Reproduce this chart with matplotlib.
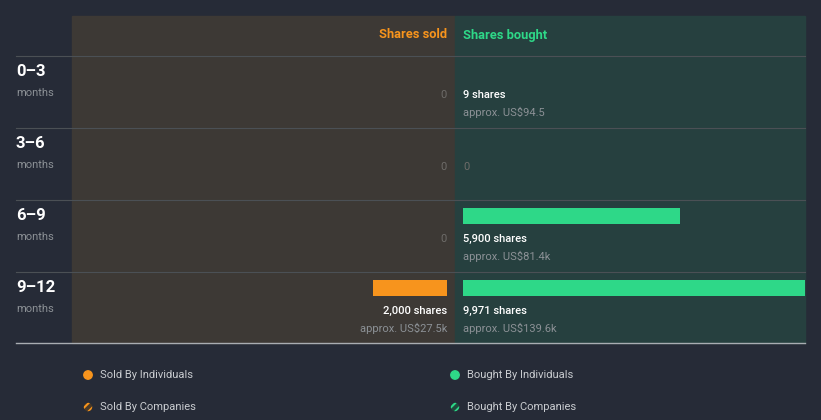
import matplotlib
matplotlib.use('Agg')
import matplotlib.pyplot as plt
from matplotlib.patches import Rectangle, Circle

plt.rcParams['font.family'] = ['Roboto', 'DejaVu Sans']
plt.rcParams['hatch.linewidth'] = 1.5

periods = ['0–3', '3–6', '6–9', '9–12']
sold_shares = [0, 0, 0, 2000]
sold_value = ['', '', '', 'US$27.5k']
bought_shares = [9, 0, 5900, 9971]
bought_value = ['US$94.5', '', 'US$81.4k', 'US$139.6k']
legend_labels = ['Sold By Individuals', 'Sold By Companies',
                 'Bought By Individuals', 'Bought By Companies']

BG = '#262b37'
SOLD_BG = '#3d3935'
BOUGHT_BG = '#26403f'
ORANGE = '#f7941d'
GREEN = '#2ed888'
GRID = '#4b5055'
GREY = '#8c9196'
DIM = '#6e6c69'

fig = plt.figure(figsize=(8.21, 4.20), dpi=100, facecolor=BG)
ax = fig.add_axes([0, 0, 1, 1])
ax.set_xlim(0, 821)
ax.set_ylim(420, 0)
ax.axis('off')

# panels
top, bottom = 16, 343
mid, right = 455, 805
ax.add_patch(Rectangle((72, top), mid - 72, bottom - top, color=SOLD_BG, zorder=0))
bought_panel = Rectangle((mid, top), right - mid, bottom - top, color=BOUGHT_BG, zorder=0)
ax.add_patch(bought_panel)

ax.text(447, 35, 'Shares sold', color=ORANGE, fontsize=9.3, fontweight='bold',
        ha='right', va='center')
ax.text(463, 35, 'Shares bought', color=GREEN, fontsize=9.3, fontweight='bold',
        ha='left', va='center')

# scale: pixels per share (largest bar runs past the panel edge and is clipped)
scale = 367 / max(bought_shares + sold_shares)
row_h = 72
first_row = 56

for i, p in enumerate(periods):
    y0 = first_row + i * row_h
    ax.plot([16, right], [y0, y0], color=GRID, lw=0.8, zorder=1)
    ax.text(16, y0 + 15.5, p, color='white', fontsize=12, fontweight='bold',
            ha='left', va='center')
    ax.text(16, y0 + 37, 'months', color=GREY, fontsize=8, ha='left', va='center')

    # sold side
    s = sold_shares[i]
    if s > 0:
        ax.barh(y0 + 16, s * scale, left=447 - s * scale, height=16,
                color=ORANGE, zorder=2)
        ax.text(447, y0 + 39, f'{s:,} shares', color='white', fontsize=8,
                fontweight='medium', ha='right', va='center')
        ax.text(447, y0 + 56.5, 'approx. ' + sold_value[i], color=GREY, fontsize=8,
                ha='right', va='center')
    else:
        ax.text(447, y0 + 39, '0', color=DIM, fontsize=8, ha='right', va='center')

    # bought side
    b = bought_shares[i]
    if b > 0:
        bars = ax.barh(y0 + 16, b * scale, left=463, height=16, color=GREEN, zorder=2)
        for bar in bars:
            bar.set_clip_path(bought_panel)
        ax.text(463, y0 + 39, f'{b:,} shares', color='white', fontsize=8,
                fontweight='medium', ha='left', va='center')
        ax.text(463, y0 + 56.5, 'approx. ' + bought_value[i], color=GREY, fontsize=8,
                ha='left', va='center')
    else:
        ax.text(463, y0 + 39, '0', color=DIM, fontsize=8, ha='left', va='center')

ax.plot([16, right], [bottom, bottom], color='#a9adb2', lw=1, zorder=3)

# legend
legend_pos = [(88, 375), (88, 407), (455, 375), (455, 407)]
legend_cols = [ORANGE, ORANGE, GREEN, GREEN]
hatch_fill = ['#4a3a28', '#4a3a28', '#1e4a3c', '#1e4a3c']
for k, ((lx, ly), lab, col) in enumerate(zip(legend_pos, legend_labels, legend_cols)):
    if k % 2 == 0:
        ax.add_patch(Circle((lx, ly), 4.2, color=col, zorder=3))
    else:
        ax.add_patch(Circle((lx, ly), 4.2, facecolor=hatch_fill[k], edgecolor=col,
                            hatch='////', lw=0, zorder=3))
    ax.text(lx + 12, ly, lab, color='#c9ccd0', fontsize=8, ha='left', va='center')

fig.savefig('out.png', dpi=100, facecolor=BG)
